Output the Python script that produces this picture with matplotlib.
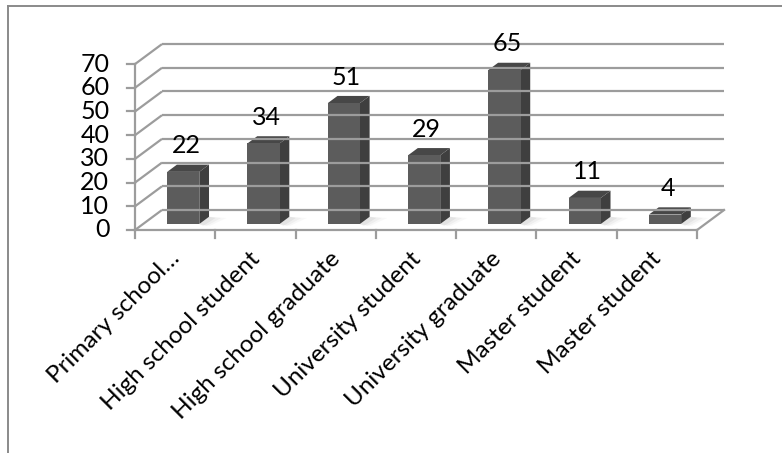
import matplotlib.pyplot as plt
from matplotlib.patches import Polygon
from matplotlib.lines import Line2D

plt.rcParams['font.family'] = ['Lato', 'DejaVu Sans']

categories = ["Primary school…", "High school student", "High school graduate",
              "University student", "University graduate", "Master student",
              "Master student"]
values = [22, 34, 51, 29, 65, 11, 4]
y_ticks = [0, 10, 20, 30, 40, 50, 60, 70]

# pseudo-3D geometry (category units / value units)
DX, DY = 0.336, 8.44      # full depth shift of the back wall
ZF, ZD = 0.30, 0.36       # bar front depth, bar depth
BAR_W = 0.40
GRID = "#9c9c9c"

W, H = 782, 453
fig = plt.figure(figsize=(W / 100, H / 100), dpi=100)
ax = fig.add_axes([0, 0, 1, 1])
ax.set_xlim(-135 / 80.3, (W - 135) / 80.3)
ax.set_ylim(-(H - 230) / 2.37, 230 / 2.37)
ax.axis("off")

n = len(categories)

# side wall and back wall gridlines
for v in y_ticks:
    ax.plot([0, DX], [v, v + DY], color=GRID, lw=1.6, solid_capstyle="butt")
    ax.plot([DX, n + DX], [v + DY, v + DY], color=GRID, lw=1.6, solid_capstyle="butt")
    ax.plot([-0.1, 0], [v, v], color=GRID, lw=1.6)
    ax.text(-0.32, v, str(v), ha="right", va="center", fontsize=18)

# front value axis and floor
ax.plot([0, 0], [0, y_ticks[-1]], color=GRID, lw=1.6)
ax.plot([0, n], [0, 0], color=GRID, lw=1.6)
ax.plot([n, n + DX], [0, DY], color=GRID, lw=1.6)
for i in range(n + 1):
    ax.plot([i, i], [0, -3.4], color=GRID, lw=1.6)

# bars
for i, (lab, v) in enumerate(zip(categories, values)):
    x0 = i + 0.5 - BAR_W / 2 + ZF * DX
    x1 = x0 + BAR_W
    y0 = ZF * DY
    ddx, ddy = ZD * DX, ZD * DY
    # soft shadow on the floor
    for k, a in enumerate([0.10, 0.08, 0.05]):
        ext = 0.08 + 0.07 * k
        ax.add_patch(Polygon([(x1, y0), (x1 + ddx, y0 + ddy),
                              (x1 + ddx + ext, y0 + ddy - 0.5),
                              (x1 + ext * 0.6, y0 - 0.8)],
                             closed=True, facecolor="#808080", edgecolor="none",
                             alpha=a))
    ax.add_patch(Polygon([(x1, y0), (x1 + ddx, y0 + ddy), (x1 + ddx, v + y0 + ddy),
                          (x1, v + y0)], closed=True, facecolor="#3f3f3f",
                         edgecolor="none"))
    ax.add_patch(Polygon([(x0, v + y0), (x1, v + y0), (x1 + ddx, v + y0 + ddy),
                          (x0 + ddx, v + y0 + ddy)], closed=True, facecolor="#474747",
                         edgecolor="none"))
    ax.add_patch(Polygon([(x0, y0), (x1, y0), (x1, v + y0), (x0, v + y0)],
                         closed=True, facecolor="#5c5c5c", edgecolor="none"))
    ax.text(i + 0.5 + (ZF + 0.1) * DX, v + y0 + 11, str(v), ha="center",
            va="center", fontsize=18)
    ax.text(i + 0.42, -7.5, lab, rotation=45, rotation_mode="anchor",
            ha="right", va="top", fontsize=17.5)

# chart border (cropped at right and bottom)
fig.add_artist(Line2D([8 / W, 8 / W], [0, 1 - 6 / H], transform=fig.transFigure,
                      color="#8a8a8a", lw=1.4))
fig.add_artist(Line2D([8 / W, 1], [1 - 6 / H, 1 - 6 / H], transform=fig.transFigure,
                      color="#8a8a8a", lw=1.4))

fig.savefig("out.png", dpi=100)
